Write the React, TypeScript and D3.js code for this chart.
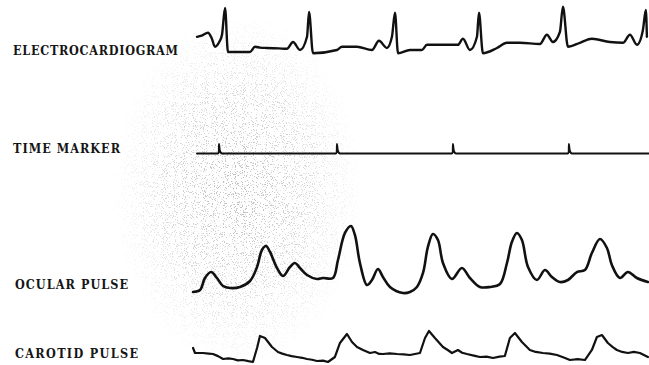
import * as React from 'react';
import * as d3 from 'd3';

const width = 649;
const height = 365;

// time in ms, amplitudes in arbitrary units
const ecg: [number, number][] = [
  [0, 0.33], [40, 0.36], [94, 0.43], [125, 0.3], [154, 0.08], [190, 0.2], [214, 0.38], [240, 1.05], [265, -0.05],
  [454, -0.05], [496, 0.08], [540, 0.06], [599, 0.05], [700, 0.04], [770, 0.03], [822, 0.2], [882, 0],
  [942, 0.33], [959, 0.95], [993, -0.08], [1198, 0], [1241, 0.08], [1370, 0.08], [1498, 0],
  [1558, 0.23], [1626, 0.05], [1669, 0.33], [1695, 0.93], [1721, -0.08], [1823, 0], [1926, 0],
  [1969, 0.13], [2106, 0.13], [2234, 0.13], [2277, 0.28], [2337, 0], [2397, 0.33], [2414, 0.93],
  [2448, -0.08], [2568, 0.05], [2654, 0.18], [2765, 0.18], [2936, 0.15], [2996, 0.38], [3047, 0.2],
  [3107, 0.45], [3133, 1.08], [3176, 0.08], [3278, 0.18], [3381, 0.28], [3535, 0.2], [3647, 0.18],
  [3707, 0.38], [3767, 0.13], [3818, 0.5], [3843, 1.0], [3852, 0.33],
];

const markerTimes = [188, 1198, 2191, 3184];
const markerShape: [number, number][] = [[-8, 0], [-1, 0.15], [0, 1], [6, 0.4], [14, 0.12], [28, 0]];

const ocular: [number, number][] = [
  [-34, 0.15], [26, 0.45], [68, 2.24], [120, 3.13], [171, 2.24], [223, 1.04], [282, 0.75], [368, 0.9],
  [454, 1.79], [514, 3.88], [556, 6.42], [591, 7.01], [625, 6.12], [685, 3.73], [736, 2.54], [796, 3.88],
  [839, 4.48], [882, 3.73], [942, 2.69], [1027, 2.09], [1079, 2.24], [1164, 2.24], [1207, 4.93],
  [1267, 8.96], [1318, 10], [1352, 8.66], [1395, 4.48], [1455, 1.19], [1498, 1.94], [1549, 3.58],
  [1592, 2.39], [1652, 0.9], [1763, 0], [1823, 0.15], [1883, 0.9], [1935, 2.99], [1977, 6.87],
  [2020, 8.81], [2063, 7.91], [2106, 4.48], [2183, 2.09], [2268, 3.73], [2337, 2.24], [2422, 0.9],
  [2508, 0.9], [2594, 1.34], [2654, 4.48], [2696, 7.61], [2739, 8.96], [2782, 7.91], [2834, 3.88],
  [2910, 1.94], [2979, 3.43], [3039, 2.39], [3107, 1.64], [3176, 1.94], [3253, 3.13], [3321, 3.43],
  [3381, 5.97], [3450, 8.06], [3510, 6.72], [3552, 4.18], [3621, 2.24], [3689, 3.13], [3766, 2.24],
  [3861, 1.64],
];

const carotid: [number, number][] = [
  [-34, 5.0], [-17, 3.21], [51, 3.21], [100, 3.0], [137, 2.86], [180, 2.1], [223, 1.07], [270, 1.3],
  [308, 1.07], [350, 0.6], [394, 0.71], [440, 0.3], [479, 0], [514, 5.0], [539, 9.29], [582, 8.57],
  [642, 5.36], [693, 3.57], [730, 3.0], [770, 2.5], [810, 2.1], [856, 1.79], [900, 1.5], [942, 1.07],
  [985, 0.8], [1027, 0.36], [1080, 0.5], [1121, 0], [1181, 1.79], [1224, 6.79], [1284, 10], [1327, 7.14],
  [1370, 5.36], [1421, 4.29], [1481, 3.21], [1524, 3.57], [1560, 2.9], [1592, 2.86], [1650, 3.1],
  [1712, 2.86], [1770, 2.7], [1823, 2.5], [1909, 3.21], [1952, 8.57], [1986, 11.07], [2037, 8.57],
  [2106, 5.36], [2150, 4.2], [2183, 3.21], [2234, 4.29], [2270, 3.3], [2311, 2.86], [2370, 2.3],
  [2422, 1.79], [2480, 1.9], [2534, 1.43], [2590, 1.9], [2636, 2.14], [2679, 8.57], [2722, 10.36],
  [2782, 7.14], [2850, 4.29], [2900, 3.6], [2962, 3.21], [3020, 3.0], [3082, 2.5], [3140, 1.6],
  [3193, 0.71], [3260, 1.0], [3321, 0.71], [3381, 4.29], [3424, 8.93], [3467, 9.64], [3518, 6.79],
  [3560, 5.3], [3595, 4.29], [3640, 3.6], [3689, 3.21], [3740, 3.6], [3792, 3.21], [3861, 1.79],
];

const labels = [
  {text: 'ELECTROCARDIOGRAM', x: 13, y: 55, w: 165},
  {text: 'TIME MARKER', x: 13, y: 153, w: 107},
  {text: 'OCULAR PULSE', x: 15, y: 289, w: 113},
  {text: 'CAROTID PULSE', x: 15, y: 358, w: 123},
];

const x = d3.scaleLinear().domain([-60, 3870]).range([190, 649]);
const yEcg = d3.scaleLinear().domain([0, 1]).range([50, 10]);
const yMarker = d3.scaleLinear().domain([0, 1]).range([153.5, 144]);
const yOcular = d3.scaleLinear().domain([0, 10]).range([293, 226]);
const yCarotid = d3.scaleLinear().domain([0, 10]).range([362, 334]);

const markerData: [number, number][] = (() => {
  const pts: [number, number][] = [[0, 0]];
  markerTimes.forEach(m => markerShape.forEach(([dt, v]) => pts.push([m + dt, v])));
  pts.push([3870, 0]);
  return pts;
})();

const makeLine = (y: d3.ScaleLinear<number, number>, curve: d3.CurveFactory) =>
  d3.line<[number, number]>().x(d => x(d[0])).y(d => y(d[1])).curve(curve);

export default function App() {
  const ecgPath = makeLine(yEcg, d3.curveMonotoneX)(ecg) || '';
  const markerPath = makeLine(yMarker, d3.curveMonotoneX)(markerData) || '';
  const ocularPath = makeLine(yOcular, d3.curveCatmullRom.alpha(0.5))(ocular) || '';
  const carotidPath = makeLine(yCarotid, d3.curveLinear)(carotid) || '';

  return (
    <svg width={width} height={height} viewBox={`0 0 ${width} ${height}`}
      style={{position: 'absolute', left: 0, top: 0, display: 'block', background: '#fff'}}>
      <defs>
        <filter id="speck" x="0" y="0" width="100%" height="100%">
          <feTurbulence type="fractalNoise" baseFrequency="0.9" numOctaves="2" seed="7" result="n"/>
          <feColorMatrix in="n" type="matrix"
            values="0 0 0 0 0.45  0 0 0 0 0.45  0 0 0 0 0.45  14 0 0 0 -8.3"/>
        </filter>
        <radialGradient id="cloud" cx="238" cy="190" r="170" gradientUnits="userSpaceOnUse"
          gradientTransform="translate(238 190) scale(0.75 1.05) translate(-238 -190)">
          <stop offset="0" stopColor="#fff" stopOpacity="0.9"/>
          <stop offset="0.55" stopColor="#fff" stopOpacity="0.5"/>
          <stop offset="1" stopColor="#fff" stopOpacity="0"/>
        </radialGradient>
        <mask id="cloudMask" maskUnits="userSpaceOnUse" x="0" y="0" width={width} height={height}>
          <rect width={width} height={height} fill="url(#cloud)"/>
        </mask>
      </defs>
      <rect width={width} height={height} fill="#fff"/>
      <rect width={width} height={height} filter="url(#speck)" mask="url(#cloudMask)"/>

      <g fill="none" stroke="#111" strokeLinejoin="round" strokeLinecap="round">
        <path d={ecgPath} strokeWidth={2.4}/>
        <path d={markerPath} strokeWidth={2}/>
        <path d={ocularPath} strokeWidth={2.6}/>
        <path d={carotidPath} strokeWidth={2.2}/>
      </g>

      <g fontFamily="'DejaVu Serif Condensed', 'DejaVu Serif', serif" fontSize={12.5} fontWeight="bold"
        fill="#151515" style={{fontStretch: 'condensed'}}>
        {labels.map(l => (
          <text key={l.text} x={l.x} y={l.y} textLength={l.w} lengthAdjust="spacing">{l.text}</text>
        ))}
      </g>
    </svg>
  );
}
